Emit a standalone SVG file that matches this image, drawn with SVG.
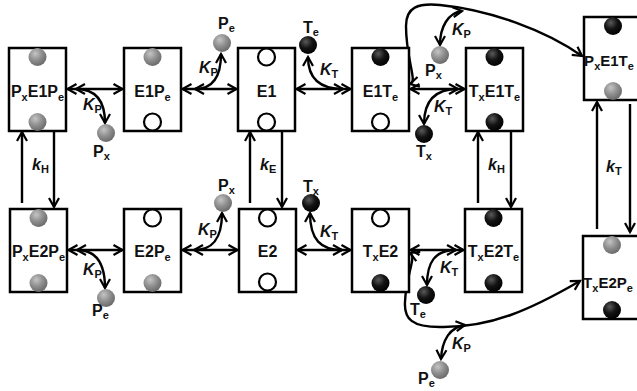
<svg xmlns="http://www.w3.org/2000/svg" width="637" height="391" viewBox="0 0 637 391">
<defs>
<radialGradient id="gGray" cx="0.38" cy="0.32" r="0.72">
<stop offset="0" stop-color="#c4c4c4"/>
<stop offset="0.5" stop-color="#909090"/>
<stop offset="1" stop-color="#676767"/>
</radialGradient>
<radialGradient id="gBlack" cx="0.38" cy="0.32" r="0.72">
<stop offset="0" stop-color="#5a5a5a"/>
<stop offset="0.5" stop-color="#131313"/>
<stop offset="1" stop-color="#000"/>
</radialGradient>
<marker id="ah" viewBox="0 0 12 12" refX="10.5" refY="6" markerWidth="12" markerHeight="12" markerUnits="userSpaceOnUse" orient="auto-start-reverse" overflow="visible">
<path d="M1.5,1 L10.5,6 L1.5,11" fill="none" stroke="#000" stroke-width="2.2"/>
</marker>
<style>
.box{fill:#fff;stroke:#000;stroke-width:2.5}
.bg{fill:url(#gGray)}
.bb{fill:url(#gBlack)}
.bo{fill:#fff;stroke:#000;stroke-width:2.2}
.nl{font-family:"Liberation Sans",Arial,sans-serif;font-weight:bold;font-size:16px;fill:#111;text-anchor:middle}
.nr{font-size:15px}
.bl{font-family:"Liberation Sans",Arial,sans-serif;font-weight:bold;font-size:16px;fill:#111}
.kl{font-family:"Liberation Sans",Arial,sans-serif;font-weight:bold;font-style:italic;font-size:16px;fill:#111}
.s{font-size:11px;font-style:normal}
.c2{fill:none;stroke:#000;stroke-width:2.4;marker-start:url(#ah);marker-end:url(#ah)}
.c1{fill:none;stroke:#000;stroke-width:2.4;marker-end:url(#ah)}
</style>
</defs>
<rect width="637" height="391" fill="#fff"/>

<g id="connectors">
<path class="c2" d="M67.5,89 H122.5"/>
<path class="c2" d="M182.5,89 H236.5"/>
<path class="c2" d="M296.5,89 H350.5"/>
<path class="c2" d="M410.5,89 H464.5"/>
<path class="c2" d="M68.5,250 H122.5"/>
<path class="c2" d="M182.5,250 H237.5"/>
<path class="c2" d="M297.5,250 H350.5"/>
<path class="c2" d="M410.5,250 H463.5"/>
<path class="c2" d="M76,89 C95,89 105,100 105,123"/>
<path class="c2" d="M195,89 C212,89 221,78 221,54"/>
<path class="c2" d="M343,89 C321,89 308,80 308,57"/>
<path class="c2" d="M458,89 C436,89 424,100 424,124"/>
<path class="c2" d="M77,250 C95,250 105,262 105,288"/>
<path class="c2" d="M194,250 C211,250 222,241 222,213"/>
<path class="c2" d="M342,250 C321,250 310,240 310,213"/>
<path class="c2" d="M456,250 C435,250 427,262 427,285"/>
<path class="c2" d="M410,84 C418,82 406,60 406,26 C406,7 418,3 440,5 C490,10 545,30 582,56"/>
<path class="c2" d="M462,11 C448,13 440,27 440,45"/>
<path class="c2" d="M410,253 C417,256 406,275 405,302 C404,319 412,327 440,327 C490,328 530,310 580,281"/>
<path class="c2" d="M465,325 C450,327 442,340 441,359"/>
<path class="c1" d="M22,203 V132"/>
<path class="c1" d="M54,131 V207"/>
<path class="c1" d="M250,203 V132"/>
<path class="c1" d="M282,131 V207"/>
<path class="c1" d="M478,203 V132"/>
<path class="c1" d="M511,131 V207"/>
<path class="c1" d="M597,229 V102"/>
<path class="c1" d="M630,104 V232"/>
</g>

<g id="rate-labels">
<text class="kl" x="83" y="110">K<tspan class="s" dy="3">P</tspan></text>
<text class="kl" x="199" y="73">K<tspan class="s" dy="3">P</tspan></text>
<text class="kl" x="320" y="75">K<tspan class="s" dy="3">T</tspan></text>
<text class="kl" x="434" y="112">K<tspan class="s" dy="3">T</tspan></text>
<text class="kl" x="452" y="35">K<tspan class="s" dy="3">P</tspan></text>
<text class="kl" x="83" y="275">K<tspan class="s" dy="3">P</tspan></text>
<text class="kl" x="198" y="235">K<tspan class="s" dy="3">P</tspan></text>
<text class="kl" x="320" y="237">K<tspan class="s" dy="3">T</tspan></text>
<text class="kl" x="440" y="273">K<tspan class="s" dy="3">T</tspan></text>
<text class="kl" x="452" y="349">K<tspan class="s" dy="3">P</tspan></text>
<text class="kl" x="32" y="170">k<tspan class="s" dy="3">H</tspan></text>
<text class="kl" x="260" y="170">k<tspan class="s" dy="3">E</tspan></text>
<text class="kl" x="488" y="170">k<tspan class="s" dy="3">H</tspan></text>
<text class="kl" x="606" y="172">k<tspan class="s" dy="3">T</tspan></text>
</g>

<g id="ligand-px-1"><circle class="bg" cx="106" cy="133" r="9"/><text class="bl" x="93" y="157">P<tspan class="s" dy="3">x</tspan></text></g>
<g id="ligand-pe-1"><circle class="bg" cx="222" cy="43" r="9"/><text class="bl" x="218" y="29">P<tspan class="s" dy="3">e</tspan></text></g>
<g id="ligand-te-1"><circle class="bb" cx="308" cy="45" r="9"/><text class="bl" x="303" y="33">T<tspan class="s" dy="3">e</tspan></text></g>
<g id="ligand-tx-1"><circle class="bb" cx="424" cy="134" r="9"/><text class="bl" x="416" y="157">T<tspan class="s" dy="3">x</tspan></text></g>
<g id="ligand-px-2"><circle class="bg" cx="440" cy="55" r="9"/><text class="bl" x="425" y="76">P<tspan class="s" dy="3">x</tspan></text></g>
<g id="ligand-pe-2"><circle class="bg" cx="106" cy="298" r="9"/><text class="bl" x="92" y="316">P<tspan class="s" dy="3">e</tspan></text></g>
<g id="ligand-px-3"><circle class="bg" cx="223" cy="203" r="9"/><text class="bl" x="218" y="191">P<tspan class="s" dy="3">x</tspan></text></g>
<g id="ligand-tx-2"><circle class="bb" cx="311" cy="203" r="9"/><text class="bl" x="303" y="192">T<tspan class="s" dy="3">x</tspan></text></g>
<g id="ligand-te-2"><circle class="bb" cx="426" cy="295" r="9"/><text class="bl" x="410" y="315">T<tspan class="s" dy="3">e</tspan></text></g>
<g id="ligand-pe-3"><circle class="bg" cx="440" cy="370" r="9"/><text class="bl" x="418" y="384">P<tspan class="s" dy="3">e</tspan></text></g>

<g id="PxE1Pe"><rect class="box" x="9" y="48" width="57" height="83"/><circle class="bg" cx="37.5" cy="57" r="9"/><circle class="bg" cx="37.5" cy="122" r="9"/><text class="nl" x="37.5" y="97">P<tspan class="s" dy="4">x</tspan><tspan dy="-4">E1P</tspan><tspan class="s" dy="4">e</tspan></text></g>
<g id="E1Pe"><rect class="box" x="124" y="48" width="57" height="83"/><circle class="bg" cx="152.5" cy="57" r="9"/><circle class="bo" cx="152.5" cy="122" r="8.5"/><text class="nl" x="152.5" y="97">E1P<tspan class="s" dy="4">e</tspan></text></g>
<g id="E1"><rect class="box" x="238" y="48" width="57" height="83"/><circle class="bo" cx="266.5" cy="57" r="8.5"/><circle class="bo" cx="266.5" cy="122" r="8.5"/><text class="nl" x="266.5" y="97">E1</text></g>
<g id="E1Te"><rect class="box" x="352" y="48" width="57" height="83"/><circle class="bb" cx="380.5" cy="57" r="9"/><circle class="bo" cx="380.5" cy="122" r="8.5"/><text class="nl" x="380.5" y="97">E1T<tspan class="s" dy="4">e</tspan></text></g>
<g id="TxE1Te"><rect class="box" x="466" y="48" width="57" height="83"/><circle class="bb" cx="494.5" cy="57" r="9"/><circle class="bb" cx="494.5" cy="122" r="9"/><text class="nl" x="494.5" y="97">T<tspan class="s" dy="4">x</tspan><tspan dy="-4">E1T</tspan><tspan class="s" dy="4">e</tspan></text></g>
<g id="PxE1Te"><rect class="box" x="584" y="17" width="60" height="83"/><circle class="bb" cx="613" cy="26" r="9"/><circle class="bg" cx="613" cy="91" r="9"/><text class="nl nr" x="609" y="66">P<tspan class="s" dy="4">x</tspan><tspan dy="-4">E1T</tspan><tspan class="s" dy="4">e</tspan></text></g>

<g id="PxE2Pe"><rect class="box" x="10" y="209" width="57" height="83"/><circle class="bg" cx="38.5" cy="218" r="9"/><circle class="bg" cx="38.5" cy="283" r="9"/><text class="nl" x="38.5" y="257">P<tspan class="s" dy="4">x</tspan><tspan dy="-4">E2P</tspan><tspan class="s" dy="4">e</tspan></text></g>
<g id="E2Pe"><rect class="box" x="124" y="209" width="57" height="83"/><circle class="bo" cx="152.5" cy="218" r="8.5"/><circle class="bg" cx="152.5" cy="283" r="9"/><text class="nl" x="152.5" y="257">E2P<tspan class="s" dy="4">e</tspan></text></g>
<g id="E2"><rect class="box" x="239" y="209" width="57" height="83"/><circle class="bo" cx="267.5" cy="218" r="8.5"/><circle class="bo" cx="267.5" cy="282" r="8.5"/><text class="nl" x="267.5" y="257">E2</text></g>
<g id="TxE2"><rect class="box" x="352" y="209" width="57" height="83"/><circle class="bo" cx="380.5" cy="218" r="8.5"/><circle class="bb" cx="380.5" cy="283" r="9"/><text class="nl" x="380.5" y="257">T<tspan class="s" dy="4">x</tspan><tspan dy="-4">E2</tspan></text></g>
<g id="TxE2Te"><rect class="box" x="465" y="209" width="57" height="83"/><circle class="bb" cx="493.5" cy="218" r="9"/><circle class="bb" cx="493.5" cy="283" r="9"/><text class="nl" x="493.5" y="257">T<tspan class="s" dy="4">x</tspan><tspan dy="-4">E2T</tspan><tspan class="s" dy="4">e</tspan></text></g>
<g id="TxE2Pe"><rect class="box" x="583" y="236" width="60" height="83"/><circle class="bg" cx="612" cy="245" r="9"/><circle class="bb" cx="612" cy="310" r="9"/><text class="nl nr" x="608" y="288">T<tspan class="s" dy="4">x</tspan><tspan dy="-4">E2P</tspan><tspan class="s" dy="4">e</tspan></text></g>
</svg>
